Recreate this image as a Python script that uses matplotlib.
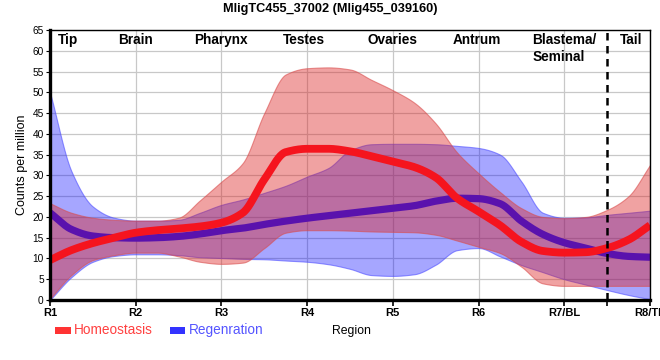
import numpy as np
import matplotlib
matplotlib.use("Agg")
import matplotlib.pyplot as plt
from matplotlib.patches import Rectangle

# ---------------- data ----------------
tick_labels = ["R1", "R2", "R3", "R4", "R5", "R6", "R7/BL", "R8/TL"]
region_names = ["Tip", "Brain", "Pharynx", "Testes", "Ovaries", "Antrum", "Blastema/\nSeminal", "Tail"]

# sampling positions along body (R1 = 1 ... R8 = 8)
pos = [1.0, 1.25, 1.5, 1.75, 2.0, 2.25, 2.5, 2.75, 3.0, 3.25, 3.5, 3.75, 4.0, 4.25,
       4.5, 4.75, 5.0, 5.25, 5.5, 5.75, 6.0, 6.25, 6.5, 6.75, 7.0, 7.25, 7.5, 7.75, 8.0]

homeo_mean = [9.6, 12.0, 13.7, 15.0, 16.2, 16.8, 17.2, 17.7, 18.6, 21.0, 29.0, 35.6, 36.4, 36.4,
              35.8, 34.6, 33.3, 32.0, 29.5, 24.5, 21.3, 18.0, 14.0, 11.8, 11.4, 11.5, 12.5, 14.5, 18.0]
homeo_upper = [23.3, 21.0, 19.8, 19.3, 19.1, 19.1, 19.8, 24.0, 28.5, 33.0, 45.0, 54.3, 55.8, 56.0,
               55.5, 53.0, 50.5, 47.5, 42.5, 35.5, 30.5, 26.0, 22.1, 20.0, 19.7, 20.0, 21.7, 25.0, 32.5]
homeo_lower = [0.3, 6.0, 9.6, 10.8, 11.4, 11.4, 10.5, 9.2, 8.7, 9.0, 12.5, 16.2, 16.8, 16.8,
               16.7, 16.5, 16.4, 16.3, 15.7, 14.3, 12.8, 11.3, 8.0, 4.0, 3.4, 3.4, 3.4, 3.4, 3.4]

regen_mean = [21.0, 17.0, 15.4, 15.0, 14.9, 15.0, 15.3, 15.9, 16.7, 17.3, 18.2, 19.0, 19.7, 20.3,
              20.9, 21.5, 22.1, 22.7, 23.8, 24.5, 24.4, 23.2, 19.0, 15.8, 13.8, 12.5, 11.2, 10.5, 10.3]
regen_upper = [50.0, 31.0, 22.5, 19.8, 19.1, 19.1, 19.3, 21.0, 22.9, 24.2, 25.8, 27.5, 29.7, 31.8,
               36.0, 37.5, 37.6, 37.6, 37.5, 37.1, 36.6, 35.0, 28.5, 21.0, 19.8, 19.9, 20.5, 21.0, 21.5]
regen_lower = [0.0, 5.5, 9.2, 10.6, 11.0, 11.0, 10.8, 10.3, 10.1, 9.9, 9.8, 9.5, 9.2, 8.6,
               7.5, 6.0, 5.8, 6.2, 8.5, 12.0, 12.5, 10.5, 8.4, 6.7, 5.0, 3.7, 2.4, 1.2, 0.2]

title = "MligTC455_37002 (Mlig455_039160)"
series_names = ["Homeostasis", "Regenration"]


# monotone cubic (Fritsch-Carlson) curve through the data, like a monotone line renderer
def monotone_curve(x, y, n=600):
    x = np.asarray(x, float)
    y = np.asarray(y, float)
    h = np.diff(x)
    d = np.diff(y) / h
    m = np.zeros_like(y)
    m[0], m[-1] = d[0], d[-1]
    for k in range(1, len(x) - 1):
        if d[k - 1] * d[k] <= 0:
            m[k] = 0.0
        else:
            w1 = 2 * h[k] + h[k - 1]
            w2 = h[k] + 2 * h[k - 1]
            m[k] = (w1 + w2) / (w1 / d[k - 1] + w2 / d[k])
    xn = np.linspace(x[0], x[-1], n)
    idx = np.clip(np.searchsorted(x, xn) - 1, 0, len(x) - 2)
    t = (xn - x[idx]) / h[idx]
    h00 = 2 * t**3 - 3 * t**2 + 1
    h10 = t**3 - 2 * t**2 + t
    h01 = -2 * t**3 + 3 * t**2
    h11 = t**3 - t**2
    yn = h00 * y[idx] + h10 * h[idx] * m[idx] + h01 * y[idx + 1] + h11 * h[idx] * m[idx + 1]
    return xn, yn


plt.rcParams['font.family'] = ['Liberation Sans', 'DejaVu Sans']

fig = plt.figure(figsize=(6.6, 3.6), dpi=100)
ax = fig.add_axes([50 / 660, 60 / 360, 600 / 660, 270 / 360])

# bands
xr, ru = monotone_curve(pos, regen_upper)
_, rl = monotone_curve(pos, regen_lower)
ax.fill_between(xr, rl, ru, facecolor=(0, 0, 1, 0.35), edgecolor=(0.3, 0.3, 1.0, 0.6),
                linewidth=0.8, zorder=2)
xh, hu = monotone_curve(pos, homeo_upper)
_, hl = monotone_curve(pos, homeo_lower)
ax.fill_between(xh, hl, hu, facecolor=(0.86, 0.12, 0.12, 0.41), edgecolor=(0.85, 0.3, 0.3, 0.6),
                linewidth=0.8, zorder=3)

# mean lines
_, rm = monotone_curve(pos, regen_mean)
ax.plot(xr, rm, color='#5a12ad', linewidth=5.2, solid_capstyle='butt', zorder=4)
_, hm = monotone_curve(pos, homeo_mean)
ax.plot(xh, hm, color='#f5141e', linewidth=5.6, solid_capstyle='butt', zorder=5)

# dashed divider between R7 and R8
ax.axvline(7.5, color='black', linestyle=(0, (3, 2.2)), linewidth=1.8, zorder=6)

ax.set_xlim(1, 8)
ax.set_ylim(0, 65)
ax.set_xticks(range(1, 9))
ax.set_xticklabels(tick_labels, fontsize=8, fontweight='bold')
ax.set_xticks([7.5], minor=True)
ax.set_yticks(range(0, 66, 5))
ax.tick_params(axis='y', labelsize=7.3, length=3, width=0.8, pad=1.5)
ax.tick_params(axis='x', which='both', length=4, width=1.2, pad=2)
ax.grid(True, which='major', color='#c8c8c8', linewidth=0.9, zorder=0)
ax.set_axisbelow(True)

for s in ['top', 'right']:
    ax.spines[s].set_linewidth(1.0)
for s in ['left', 'bottom']:
    ax.spines[s].set_linewidth(2.4)
for s in ax.spines.values():
    s.set_zorder(7)

ax.set_ylabel("Counts per million", fontsize=9, labelpad=3)

# region names along top
label_x = [1.21, 2.0, 3.0, 3.96, 5.0, 5.98, 7.0, 7.78]
for name, lx in zip(region_names, label_x):
    ax.text(lx, 64.2, name, ha='center', va='top', fontsize=9.8, fontweight='bold',
            multialignment='left', zorder=8)

fig.text(330 / 660, 1 - 9 / 360, title, ha='center', va='center', fontsize=9.2, fontweight='bold')

# legend + axis title row
fig.patches.append(Rectangle((55 / 660, 1 - 334 / 360), 16 / 660, 7 / 360,
                             transform=fig.transFigure, facecolor='#ff3333', edgecolor='none'))
fig.text(74 / 660, 1 - 330 / 360, series_names[0], ha='left', va='center', fontsize=9.8, color='#ff4040')
fig.patches.append(Rectangle((170 / 660, 1 - 334 / 360), 15 / 660, 7 / 360,
                             transform=fig.transFigure, facecolor='#3333ff', edgecolor='none'))
fig.text(189 / 660, 1 - 330 / 360, series_names[1], ha='left', va='center', fontsize=9.8, color='#5555ff')
fig.text(332 / 660, 1 - 331 / 360, "Region", ha='left', va='center', fontsize=8.8, color='black')

fig.savefig("out.png", dpi=100)
